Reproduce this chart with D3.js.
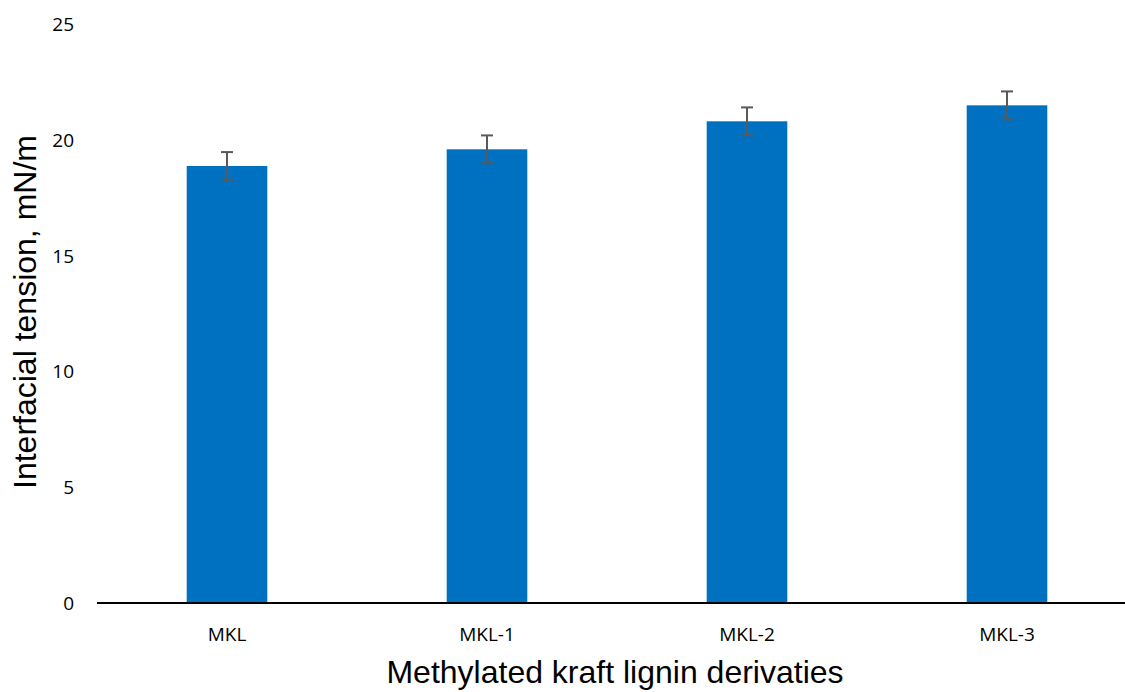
<!DOCTYPE html>
<html>
<head>
<meta charset="utf-8">
<script src="https://cdn.jsdelivr.net/npm/d3@7"></script>
<style>
  body { margin: 0; background: #fff; }
</style>
</head>
<body>
<div id="chart"></div>
<script>
var categories = ["MKL", "MKL-1", "MKL-2", "MKL-3"];
var tension = [18.88, 19.6, 20.81, 21.5];
var errors = [0.6, 0.6, 0.6, 0.6];
var yTicks = [0, 5, 10, 15, 20, 25];

var width = 1125, height = 692;
var svg = d3.select("#chart")
  .append("svg")
  .attr("width", width)
  .attr("height", height);

var x = d3.scaleBand()
  .domain(categories)
  .range([97, 1137])
  .paddingInner(0.69)
  .paddingOuter(0.345);
var y = d3.scaleLinear()
  .domain([0, 25])
  .range([603, 24.3]);

// y tick labels, no axis line
svg.append("g")
  .selectAll("text")
  .data(yTicks)
  .enter()
  .append("text")
  .attr("x", 74)
  .attr("y", function(d) { return y(d); })
  .attr("dy", "0.36em")
  .attr("text-anchor", "end")
  .style("font-family", "'Open Sans', sans-serif")
  .style("font-size", "19px")
  .style("fill", "#000")
  .text(function(d) { return d; });

// bars
svg.append("g")
  .selectAll("rect")
  .data(tension)
  .enter()
  .append("rect")
  .attr("x", function(d, i) { return x(categories[i]); })
  .attr("y", function(d) { return y(d); })
  .attr("width", x.bandwidth())
  .attr("height", function(d) { return y(0) - y(d); })
  .attr("fill", "#0070C0");

// error bars
var eb = svg.append("g")
  .selectAll("g")
  .data(tension)
  .enter()
  .append("g")
  .attr("stroke", "#595959")
  .attr("stroke-width", 2);
eb.append("line")
  .attr("x1", function(d, i) { return x(categories[i]) + x.bandwidth() / 2; })
  .attr("x2", function(d, i) { return x(categories[i]) + x.bandwidth() / 2; })
  .attr("y1", function(d, i) { return y(d + errors[i]); })
  .attr("y2", function(d, i) { return y(d - errors[i]); });
eb.selectAll("line.cap")
  .data(function(d, i) { return [[i, d + errors[i]], [i, d - errors[i]]]; })
  .enter()
  .append("line")
  .attr("class", "cap")
  .attr("x1", function(d) { return x(categories[d[0]]) + x.bandwidth() / 2 - 6; })
  .attr("x2", function(d) { return x(categories[d[0]]) + x.bandwidth() / 2 + 6; })
  .attr("y1", function(d) { return y(d[1]); })
  .attr("y2", function(d) { return y(d[1]); });

// x axis
var xAxis = svg.append("g")
  .attr("transform", "translate(0," + y(0) + ")")
  .call(d3.axisBottom(x).tickSize(0).tickPadding(25));
xAxis.select(".domain")
  .attr("d", "M97,0H1125")
  .attr("stroke", "#000")
  .attr("stroke-width", 2);
xAxis.selectAll("text")
  .style("font-family", "'Open Sans', sans-serif")
  .style("font-size", "19px")
  .style("fill", "#000");

// axis titles
svg.append("text")
  .attr("x", 615)
  .attr("y", 683)
  .attr("text-anchor", "middle")
  .style("font-family", "'Liberation Sans', Arial, sans-serif")
  .style("font-size", "32px")
  .text("Methylated kraft lignin derivaties");

svg.append("text")
  .attr("transform", "translate(36,312) rotate(-90)")
  .attr("text-anchor", "middle")
  .style("font-family", "'Liberation Sans', Arial, sans-serif")
  .style("font-size", "32px")
  .text("Interfacial tension, mN/m");
</script>
</body>
</html>
